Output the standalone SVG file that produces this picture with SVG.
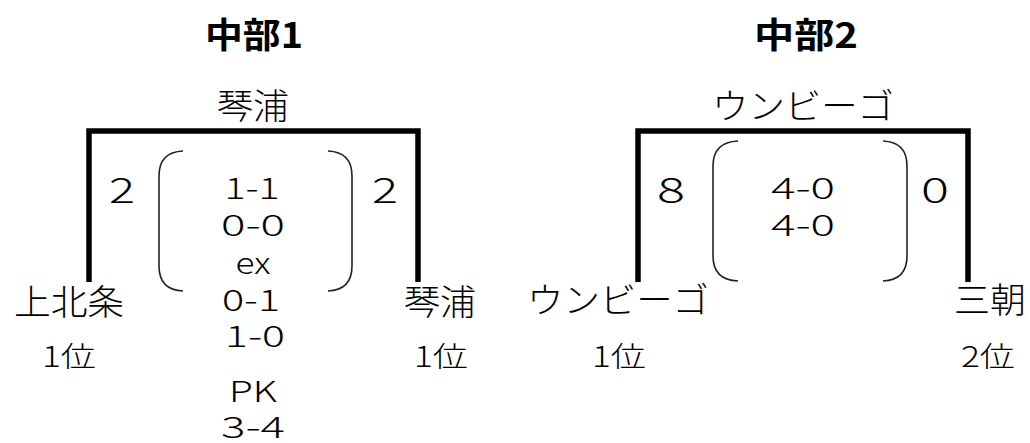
<svg xmlns="http://www.w3.org/2000/svg" width="1030" height="443" viewBox="0 0 1030 443">
<style>
text{font-family:"Noto Sans CJK JP","Noto Sans",sans-serif;fill:#000;text-anchor:middle;font-weight:300}
.title{font-size:35px;font-weight:bold}
.team{font-size:35px}
.score{font-size:35px}
.inner{font-size:29px}
.rank{font-size:28px}
.bracket{fill:none;stroke:#000;stroke-width:5.5;stroke-linecap:butt}
.paren{fill:none;stroke:#222;stroke-width:1.6}
</style>
<rect width="1030" height="443" fill="#fff"/>
<g id="connectors">
<path class="bracket" d="M89,282 V131 H418 V282"/>
<path class="bracket" d="M638,282 V131 H968 V282"/>
<path class="paren" d="M183,151 Q159,152 159,176 V266 Q159,290 183,291"/>
<path class="paren" d="M328,151 Q352,152 352,176 V266 Q352,290 328,291"/>
<path class="paren" d="M738,141 Q713,142 713,166 V256 Q713,280 738,281"/>
<path class="paren" d="M883,141 Q907,142 907,166 V256 Q907,280 883,281"/>
</g>
<g id="title1"><text class="title" x="254" y="48" textLength="98" lengthAdjust="spacingAndGlyphs">中部1</text></g>
<g id="title2"><text class="title" x="806" y="48" textLength="104" lengthAdjust="spacingAndGlyphs">中部2</text></g>
<g id="winner1"><text class="team" x="253" y="119" textLength="72" lengthAdjust="spacingAndGlyphs">琴浦</text></g>
<g id="winner2"><text class="team" x="803" y="119" textLength="182" lengthAdjust="spacingAndGlyphs">ウンビーゴ</text></g>
<g id="team1L"><text class="team" x="69" y="315" textLength="110" lengthAdjust="spacingAndGlyphs">上北条</text><text class="rank" x="69" y="367" textLength="54" lengthAdjust="spacingAndGlyphs">1位</text></g>
<g id="team1R"><text class="team" x="440" y="315" textLength="72" lengthAdjust="spacingAndGlyphs">琴浦</text><text class="rank" x="441" y="367" textLength="54" lengthAdjust="spacingAndGlyphs">1位</text></g>
<g id="team2L"><text class="team" x="618" y="313" textLength="182" lengthAdjust="spacingAndGlyphs">ウンビーゴ</text><text class="rank" x="619" y="367" textLength="54" lengthAdjust="spacingAndGlyphs">1位</text></g>
<g id="team2R"><text class="team" x="990" y="313" textLength="72" lengthAdjust="spacingAndGlyphs">三朝</text><text class="rank" x="988" y="367" textLength="54" lengthAdjust="spacingAndGlyphs">2位</text></g>
<g id="scores1">
<text class="score" x="122" y="203" textLength="26" lengthAdjust="spacingAndGlyphs">2</text>
<text class="score" x="385" y="203" textLength="26" lengthAdjust="spacingAndGlyphs">2</text>
<text class="inner" x="252" y="199" textLength="55" lengthAdjust="spacingAndGlyphs">1-1</text>
<text class="inner" x="253" y="236" textLength="64" lengthAdjust="spacingAndGlyphs">0-0</text>
<text class="inner" x="253" y="274" textLength="35" lengthAdjust="spacingAndGlyphs">ex</text>
<text class="inner" x="251" y="311" textLength="58" lengthAdjust="spacingAndGlyphs">0-1</text>
<text class="inner" x="255" y="347" textLength="60" lengthAdjust="spacingAndGlyphs">1-0</text>
<text class="inner" x="253" y="402" textLength="48" lengthAdjust="spacingAndGlyphs">PK</text>
<text class="inner" x="253" y="438" textLength="64" lengthAdjust="spacingAndGlyphs">3-4</text>
</g>
<g id="scores2">
<text class="score" x="671" y="203" textLength="28" lengthAdjust="spacingAndGlyphs">8</text>
<text class="score" x="935" y="203" textLength="28" lengthAdjust="spacingAndGlyphs">0</text>
<text class="inner" x="803" y="199" textLength="64" lengthAdjust="spacingAndGlyphs">4-0</text>
<text class="inner" x="803" y="236" textLength="64" lengthAdjust="spacingAndGlyphs">4-0</text>
</g>
</svg>
